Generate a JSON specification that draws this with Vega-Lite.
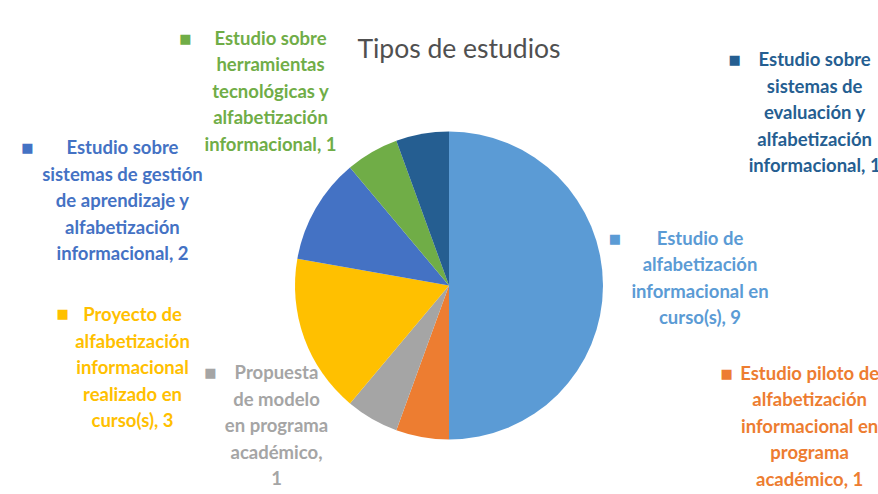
{
  "$schema": "https://vega.github.io/schema/vega-lite/v6.json",
  "width": 858,
  "height": 419,
  "autosize": "none",
  "padding": {"left": 20, "top": 76, "right": 0, "bottom": 0},
  "background": "white",
  "title": {"text": "Tipos de estudios", "fontSize": 26.5, "font": "Lato", "fontWeight": "normal", "color": "#505050", "anchor": "middle", "dx": 10, "dy": 64, "offset": 10},
  "config": {"view": {"stroke": null}},
  "data": {"values": [
    {"tipo": "Estudio de alfabetización informacional en curso(s)", "n": 9, "orden": 1, "etiqueta": "Estudio de\nalfabetización\ninformacional en\ncurso(s), 9"},
    {"tipo": "Estudio piloto de alfabetización informacional en programa académico", "n": 1, "orden": 2, "etiqueta": "Estudio piloto de\nalfabetización\ninformacional en\nprograma\nacadémico, 1"},
    {"tipo": "Propuesta de modelo en programa académico", "n": 1, "orden": 3, "etiqueta": "Propuesta\nde modelo\nen programa\nacadémico,\n1"},
    {"tipo": "Proyecto de alfabetización informacional realizado en curso(s)", "n": 3, "orden": 4, "etiqueta": "Proyecto de\nalfabetización\ninformacional\nrealizado en\ncurso(s), 3"},
    {"tipo": "Estudio sobre sistemas de gestión de aprendizaje y alfabetización informacional", "n": 2, "orden": 5, "etiqueta": "Estudio sobre\nsistemas de gestión\nde aprendizaje y\nalfabetización\ninformacional, 2"},
    {"tipo": "Estudio sobre herramientas tecnológicas y alfabetización informacional", "n": 1, "orden": 6, "etiqueta": "Estudio sobre\nherramientas\ntecnológicas y\nalfabetización\ninformacional, 1"},
    {"tipo": "Estudio sobre sistemas de evaluación y alfabetización informacional", "n": 1, "orden": 7, "etiqueta": "Estudio sobre\nsistemas de\nevaluación y\nalfabetización\ninformacional, 1"}
  ]},
  "encoding": {
    "theta": {"field": "n", "type": "quantitative", "stack": true},
    "order": {"field": "orden", "type": "quantitative"},
    "color": {
      "field": "tipo", "type": "nominal", "legend": null,
      "scale": {
        "domain": [
          "Estudio de alfabetización informacional en curso(s)",
          "Estudio piloto de alfabetización informacional en programa académico",
          "Propuesta de modelo en programa académico",
          "Proyecto de alfabetización informacional realizado en curso(s)",
          "Estudio sobre sistemas de gestión de aprendizaje y alfabetización informacional",
          "Estudio sobre herramientas tecnológicas y alfabetización informacional",
          "Estudio sobre sistemas de evaluación y alfabetización informacional"
        ],
        "range": ["#5B9BD5", "#ED7D31", "#A5A5A5", "#FFC000", "#4472C4", "#70AD47", "#255E91"]
      }
    }
  },
  "layer": [
    {"mark": {"type": "arc", "outerRadius": 154}},

    {"mark": {"type": "text", "radius": 175, "dx": 76, "dy": -47, "font": "Lato", "fontWeight": "bold", "fontSize": 18.5, "lineHeight": 26.5, "lineBreak": "\n", "align": "center", "baseline": "middle"},
     "encoding": {"text": {"condition": {"test": "datum.orden === 1", "field": "etiqueta"}, "value": ""}}},
    {"mark": {"type": "text", "radius": 175, "dx": 391, "dy": -84, "font": "Lato", "fontWeight": "bold", "fontSize": 18.5, "lineHeight": 26.5, "lineBreak": "\n", "align": "center", "baseline": "middle"},
     "encoding": {"text": {"condition": {"test": "datum.orden === 2", "field": "etiqueta"}, "value": ""}}},
    {"mark": {"type": "text", "radius": 175, "dx": -85, "dy": -64, "font": "Lato", "fontWeight": "bold", "fontSize": 18.5, "lineHeight": 26.5, "lineBreak": "\n", "align": "center", "baseline": "middle"},
     "encoding": {"text": {"condition": {"test": "datum.orden === 3", "field": "etiqueta"}, "value": ""}}},
    {"mark": {"type": "text", "radius": 175, "dx": -152, "dy": -30, "font": "Lato", "fontWeight": "bold", "fontSize": 18.5, "lineHeight": 26.5, "lineBreak": "\n", "align": "center", "baseline": "middle"},
     "encoding": {"text": {"condition": {"test": "datum.orden === 4", "field": "etiqueta"}, "value": ""}}},
    {"mark": {"type": "text", "radius": 175, "dx": -175, "dy": -50, "font": "Lato", "fontWeight": "bold", "fontSize": 18.5, "lineHeight": 26.5, "lineBreak": "\n", "align": "center", "baseline": "middle"},
     "encoding": {"text": {"condition": {"test": "datum.orden === 5", "field": "etiqueta"}, "value": ""}}},
    {"mark": {"type": "text", "radius": 175, "dx": -91, "dy": -95, "font": "Lato", "fontWeight": "bold", "fontSize": 18.5, "lineHeight": 26.5, "lineBreak": "\n", "align": "center", "baseline": "middle"},
     "encoding": {"text": {"condition": {"test": "datum.orden === 6", "field": "etiqueta"}, "value": ""}}},
    {"mark": {"type": "text", "radius": 175, "dx": 396, "dy": -53, "font": "Lato", "fontWeight": "bold", "fontSize": 18.5, "lineHeight": 26.5, "lineBreak": "\n", "align": "center", "baseline": "middle"},
     "encoding": {"text": {"condition": {"test": "datum.orden === 7", "field": "etiqueta"}, "value": ""}}},

    {"mark": {"type": "text", "radius": 175, "dx": -9, "dy": -47, "font": "DejaVu Sans", "fontSize": 13, "align": "center", "baseline": "middle"},
     "encoding": {"text": {"condition": {"test": "datum.orden === 1", "value": "■"}, "value": ""}}},
    {"mark": {"type": "text", "radius": 175, "dx": 308, "dy": -84, "font": "DejaVu Sans", "fontSize": 13, "align": "center", "baseline": "middle"},
     "encoding": {"text": {"condition": {"test": "datum.orden === 2", "value": "■"}, "value": ""}}},
    {"mark": {"type": "text", "radius": 175, "dx": -151, "dy": -64, "font": "DejaVu Sans", "fontSize": 13, "align": "center", "baseline": "middle"},
     "encoding": {"text": {"condition": {"test": "datum.orden === 3", "value": "■"}, "value": ""}}},
    {"mark": {"type": "text", "radius": 175, "dx": -222, "dy": -31, "font": "DejaVu Sans", "fontSize": 13, "align": "center", "baseline": "middle"},
     "encoding": {"text": {"condition": {"test": "datum.orden === 4", "value": "■"}, "value": ""}}},
    {"mark": {"type": "text", "radius": 175, "dx": -270, "dy": -50, "font": "DejaVu Sans", "fontSize": 13, "align": "center", "baseline": "middle"},
     "encoding": {"text": {"condition": {"test": "datum.orden === 5", "value": "■"}, "value": ""}}},
    {"mark": {"type": "text", "radius": 175, "dx": -176, "dy": -95, "font": "DejaVu Sans", "fontSize": 13, "align": "center", "baseline": "middle"},
     "encoding": {"text": {"condition": {"test": "datum.orden === 6", "value": "■"}, "value": ""}}},
    {"mark": {"type": "text", "radius": 175, "dx": 316, "dy": -53, "font": "DejaVu Sans", "fontSize": 13, "align": "center", "baseline": "middle"},
     "encoding": {"text": {"condition": {"test": "datum.orden === 7", "value": "■"}, "value": ""}}}
  ]
}
